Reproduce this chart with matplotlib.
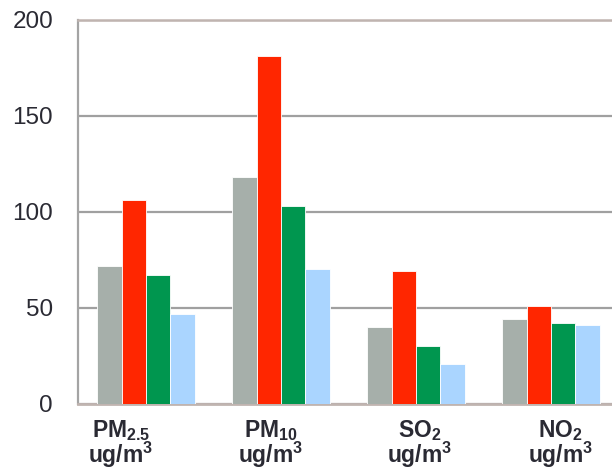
import numpy as np
import matplotlib.pyplot as plt

plt.rcParams['font.family'] = ['Liberation Sans', 'DejaVu Sans']
plt.rcParams['mathtext.fontset'] = 'custom'
plt.rcParams['mathtext.rm'] = 'Liberation Sans:bold'
plt.rcParams['mathtext.bf'] = 'Liberation Sans:bold'
plt.rcParams['mathtext.it'] = 'Liberation Sans:bold'

pollutants = ["PM$_{2.5}$\nug/m$^3$", "PM$_{10}$\nug/m$^3$",
              "SO$_2$\nug/m$^3$", "NO$_2$\nug/m$^3$"]
series_a = [72, 118, 40, 44]    # grey
series_b = [106, 181, 69, 51]   # red
series_c = [67, 103, 30, 42]    # green
series_d = [47, 70, 21, 41]     # light blue

colors = ["#a6afaa", "#ff2600", "#00964f", "#aad5ff"]

fig = plt.figure(figsize=(6.12, 4.67), dpi=100)
ax = fig.add_axes([78 / 612, (467 - 404) / 467, (612 - 78) / 612, 384.5 / 467])

x = np.arange(len(pollutants))
w = 0.181
for k, (vals, c) in enumerate(zip([series_a, series_b, series_c, series_d], colors)):
    ax.bar(x + (k - 1.5) * w, vals, w, color=c, edgecolor="white", linewidth=0.6, zorder=3)

ax.set_xlim(-0.504, 3.452)
ax.set_ylim(0, 200)
ax.set_yticks([0, 50, 100, 150, 200])
ax.yaxis.grid(True, color="#a0a0a0", linewidth=1.6, zorder=0)
ax.tick_params(axis="y", length=0, pad=18, labelsize=17.5, labelcolor="#2a2a33")

# category labels drift from left of the group centre to right of it
label_shift = [-0.185, -0.075, 0.03, 0.07]
ax.set_xticks(x + np.array(label_shift))
ax.set_xticklabels(pollutants, fontsize=16.5, fontweight="bold", linespacing=0.88,
                   color="#2a2a33")
ax.tick_params(axis="x", length=0, pad=10)

ax.spines["left"].set_color("#a4a4a4")
ax.spines["left"].set_linewidth(1.6)
ax.spines["top"].set_color("#c0b4b0")
ax.spines["top"].set_linewidth(1.8)
ax.spines["right"].set_visible(False)
ax.spines["bottom"].set_color("#c0b4b0")
ax.spines["bottom"].set_linewidth(2)

fig.savefig("out.png", dpi=100)
